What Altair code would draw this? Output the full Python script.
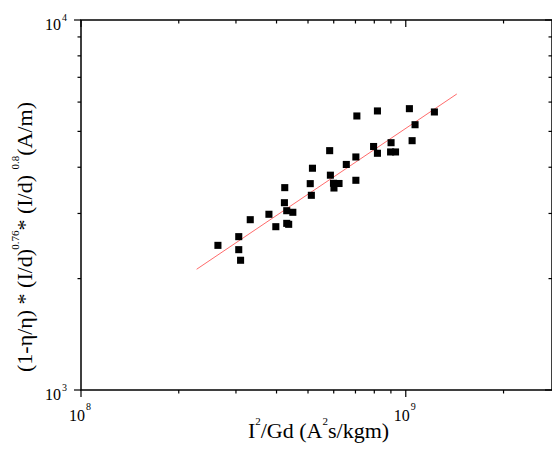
import altair as alt
import pandas as pd

# ---------------- data ----------------
i2_gd = [2.64e8, 3.06e8, 3.06e8, 3.10e8, 3.32e8, 3.79e8, 3.98e8, 4.24e8, 4.23e8,
         4.30e8, 4.49e8, 4.30e8, 4.36e8, 5.16e8, 5.08e8, 5.12e8, 5.83e8, 5.86e8,
         5.99e8, 6.23e8, 6.01e8, 6.56e8, 7.02e8, 7.02e8, 7.07e8, 8.18e8, 7.96e8,
         8.18e8, 9.01e8, 8.98e8, 9.30e8, 1.026e9, 1.068e9, 1.046e9, 1.225e9]
h_value = [2460, 2597, 2395, 2242, 2886, 2985, 2763, 3523, 3208,
           3052, 3022, 2821, 2804, 3975, 3612, 3359, 4435, 3807,
           3620, 3615, 3515, 4070, 4264, 3688, 5503, 5678, 4551,
           4363, 4660, 4399, 4399, 5759, 5212, 4719, 5642]
fit_x = [2.27e8, 1.436e9]
fit_y = [2120, 6310]

x_major = [1e8, 1e9]
x_major_exp = ["8", "9"]
x_minor = [2e8, 3e8, 4e8, 5e8, 6e8, 7e8, 8e8, 9e8, 2e9]
y_major = [1e3, 1e4]
y_major_exp = ["3", "4"]
y_minor = [2e3, 3e3, 4e3, 5e3, 6e3, 7e3, 8e3, 9e3]

x_title_parts = [("I", False), ("2", True), ("/Gd (A", False), ("2", True), ("s/kgm)", False)]
y_title_parts = [("(1-\u03b7/\u03b7) * (I/d)", False), ("0.76", True), (" * (I/d)", False),
                 ("0.8", True), (" (A/m)", False)]

# ---------------- layout / style ----------------
W, H = 471, 370
FONT = "Liberation Serif"
F_MAIN, F_SUP, RAISE = 22, 11, 13
xs = alt.Scale(type="log", domain=[1e8, 2.82e9])
ys = alt.Scale(type="log", domain=[1e3, 1e4])

TW = {' ': 250, '(': 333, ')': 333, '1': 500, '-': 333, '/': 278, '*': 500, 'I': 333,
      'd': 500, 'A': 722, 'm': 778, 'G': 722, 's': 389, 'k': 500, 'g': 500, '0': 500,
      '.': 250, '7': 500, '6': 500, '8': 500, '2': 500, '\u03b7': 500}


def tw(s, size):
    return sum(TW.get(c, 500) for c in s) / 1000 * size


def X(f="x"):
    return alt.X(f + ":Q", scale=xs, axis=None)


def Y(f="y"):
    return alt.Y(f + ":Q", scale=ys, axis=None)


def txt(text, x, y, size, align="left", angle=0):
    return alt.Chart(pd.DataFrame({"t": [text]})).mark_text(
        font=FONT, fontSize=size, align=align, baseline="alphabetic", angle=angle, color="black"
    ).encode(x=alt.value(x), y=alt.value(y), text="t:N")


pts = pd.DataFrame({"x": i2_gd, "y": h_value})
fit = pd.DataFrame({"x": fit_x, "y": fit_y})

layers = []
layers.append(alt.Chart(fit).mark_line(color="#ff5a5a", strokeWidth=0.9).encode(x=X(), y=Y()))
layers.append(alt.Chart(pts).mark_square(size=50, color="black", opacity=1).encode(x=X(), y=Y()))

# ticks: outward on bottom/left, inward on top/right
for vals, L in ((x_major, 7), (x_minor, 3.5)):
    base = alt.Chart(pd.DataFrame({"x": vals})).mark_rule(color="black", strokeWidth=1.2)
    layers.append(base.encode(x=X(), y=alt.value(H), y2=alt.value(H + L)))
    layers.append(base.encode(x=X(), y=alt.value(0), y2=alt.value(L)))
for vals, L in ((y_major, 7), (y_minor, 3.5)):
    base = alt.Chart(pd.DataFrame({"y": vals})).mark_rule(color="black", strokeWidth=1.2)
    layers.append(base.encode(y=Y(), x=alt.value(0), x2=alt.value(-L)))
    layers.append(base.encode(y=Y(), x=alt.value(W), x2=alt.value(W - L)))

# tick labels
xl = pd.DataFrame({"x": x_major, "e": x_major_exp})
layers.append(alt.Chart(xl).mark_text(font=FONT, fontSize=16, align="right", baseline="alphabetic", dx=4)
              .encode(x=X(), y=alt.value(H + 31), text=alt.value("10")))
layers.append(alt.Chart(xl).mark_text(font=FONT, fontSize=10, align="left", baseline="alphabetic", dx=5)
              .encode(x=X(), y=alt.value(H + 20), text="e:N"))
yl = pd.DataFrame({"y": y_major, "e": y_major_exp})
layers.append(alt.Chart(yl).mark_text(font=FONT, fontSize=16, align="right", baseline="alphabetic", dy=10)
              .encode(y=Y(), x=alt.value(-20), text=alt.value("10")))
layers.append(alt.Chart(yl).mark_text(font=FONT, fontSize=10, align="left", baseline="alphabetic", dy=1)
              .encode(y=Y(), x=alt.value(-19), text="e:N"))

# x title (centred under the plot)
total = sum(tw(t, F_SUP if s else F_MAIN) for t, s in x_title_parts)
cx = W / 2 - total / 2 + 2
for t, s in x_title_parts:
    size = F_SUP if s else F_MAIN
    layers.append(txt(t, cx, H + 48 - (RAISE if s else 0), size))
    cx += tw(t, size)

# y title (rotated, reading upwards)
cy = 352
for t, s in y_title_parts:
    size = F_SUP if s else F_MAIN
    layers.append(txt(t, -49 - (RAISE if s else 0), cy, size, angle=270))
    cy -= tw(t, size)

chart = alt.layer(*layers).properties(
    width=W, height=H,
    padding={"left": 73, "top": 12, "right": 0, "bottom": 57},
    autosize=alt.AutoSizeParams(type="none"),
).configure_view(stroke="black", strokeWidth=1.5)

chart.save("out.html", embed_options={"renderer": "svg", "actions": False})
